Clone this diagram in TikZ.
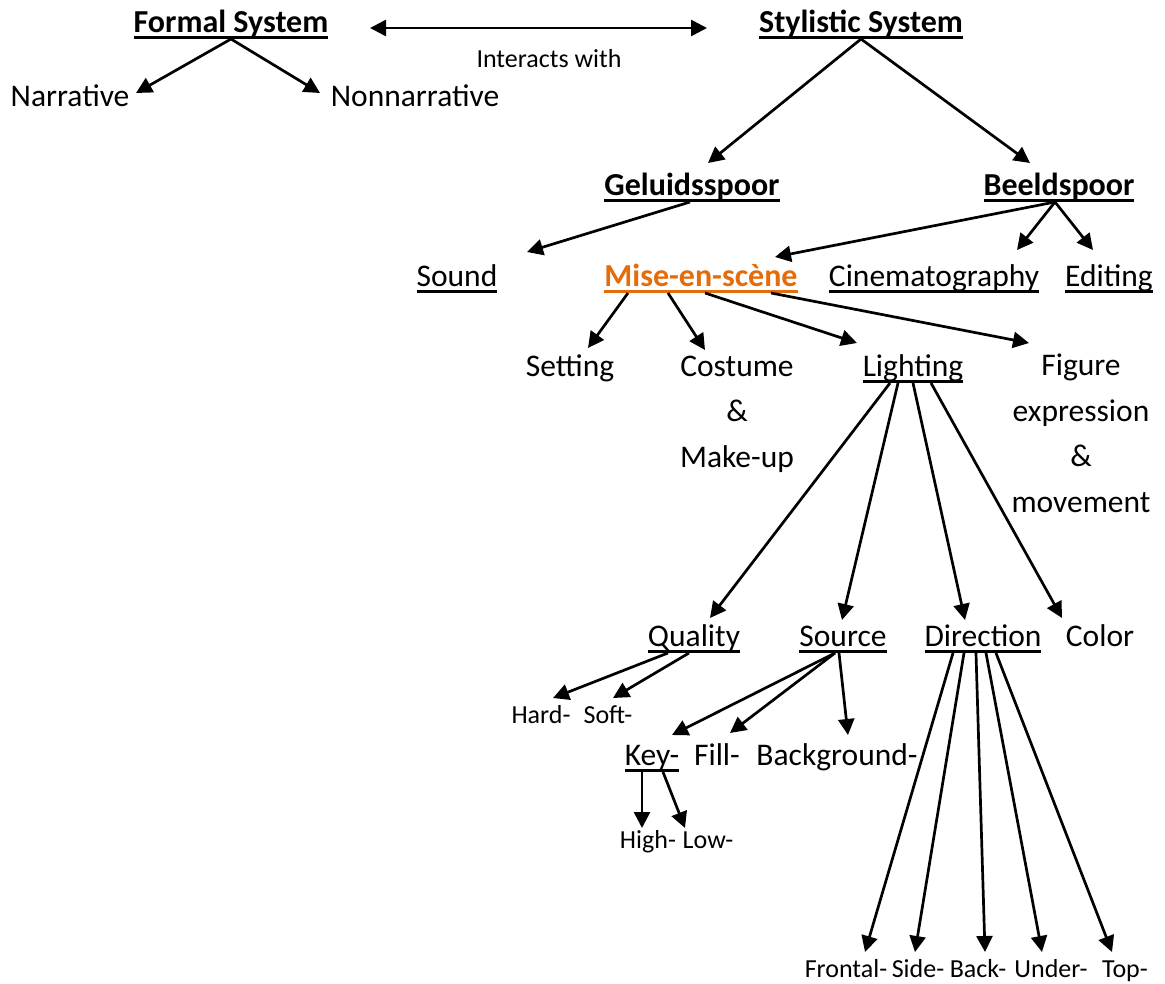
\documentclass[tikz,border=0pt]{standalone}
\usepackage{fontspec}
\setmainfont{Carlito}
\usetikzlibrary{arrows.meta}
\definecolor{miseorange}{HTML}{E46C0A}
\newcommand{\undl}[1]{\setbox0\hbox{#1}\dp0=0pt\rlap{\rule[-6.8pt]{\wd0}{2.8pt}}\box0}
\tikzstyle{txt} = [inner sep=0pt, anchor=base, align=center, font=\fontsize{31.5}{45.5}\selectfont]
\tikzstyle{headtxt} = [txt, font=\fontsize{32}{45.5}\selectfont\bfseries]
\tikzstyle{smalltxt} = [inner sep=0pt, anchor=base, font=\fontsize{26}{30}\selectfont]
\tikzstyle{arrow} = [line width=2.7pt, -{Triangle[length=16pt,width=16pt]}]
\tikzstyle{twoway} = [line width=2.7pt, {Triangle[length=16pt,width=16pt]}-{Triangle[length=16pt,width=16pt]}]

\begin{document}
\begin{tikzpicture}[x=1pt,y=-1pt]
\useasboundingbox (0,0) rectangle (1165,983);

% Nodes (positions in pixels, at the baseline of the last line)
\node (formal) [headtxt] at (231,32) {\undl{Formal System}};
\node (styl) [headtxt] at (861,32) {\undl{Stylistic System}};
\node (inter) [smalltxt] at (549,67) {Interacts with};
\node (narr) [txt] at (70,106) {Narrative};
\node (nonnarr) [txt] at (415,106) {Nonnarrative};
\node (geluid) [headtxt] at (692,195) {\undl{Geluidsspoor}};
\node (beeld) [headtxt] at (1059,195) {\undl{Beeldspoor}};
\node (sound) [txt] at (457,286) {\undl{Sound}};
\node (mise) [headtxt, text=miseorange] at (701,286) {\undl{Mise-en-scène}};
\node (cine) [txt] at (934,286) {\undl{Cinematography}};
\node (edit) [txt] at (1109,286) {\undl{Editing}};
\node (setting) [txt] at (570,376) {Setting};
\node (costume) [txt] at (737,467) {Costume\\\&\\Make-up};
\node (light) [txt] at (913,376) {\undl{Lighting}};
\node (figure) [txt] at (1081,512) {Figure\\expression\\\&\\movement};
\node (quality) [txt] at (694,646) {\undl{Quality}};
\node (source) [txt] at (843,646) {\undl{Source}};
\node (direction) [txt] at (983,646) {\undl{Direction}};
\node (color) [txt] at (1100,646) {Color};
\node (hard) [smalltxt] at (541,723) {Hard-};
\node (soft) [smalltxt] at (608,723) {Soft-};
\node (key) [txt] at (652,765) {\undl{Key-}};
\node (fill) [txt] at (717,765) {Fill-};
\node (backg) [txt] at (837,765) {Background-};
\node (high) [smalltxt] at (648,848) {High-};
\node (low) [smalltxt] at (708,848) {Low-};
\node (frontal) [smalltxt] at (846,977) {Frontal-};
\node (side) [smalltxt] at (918,977) {Side-};
\node (back) [smalltxt] at (978,977) {Back-};
\node (under) [smalltxt] at (1051,977) {Under-};
\node (top) [smalltxt] at (1125,977) {Top-};

% Arrows
\draw [twoway] ([xshift=139pt,yshift=4pt]formal.base) -- ([xshift=-154pt,yshift=4pt]styl.base);
\draw [arrow] (formal.south) -- ([xshift=66pt,yshift=13pt]narr.base);
\draw [arrow] (formal.south) -- ([xshift=-95pt,yshift=13pt]nonnarr.base);
\draw [arrow] (styl.south) -- ([xshift=16pt,yshift=32pt]geluid.base);
\draw [arrow] (styl.south) -- ([xshift=-29pt,yshift=32pt]beeld.base);
\draw [arrow] ([xshift=-2pt]geluid.south) -- ([xshift=70pt,yshift=34pt]sound.base);
\draw [arrow] ([xshift=-4pt]beeld.south) -- ([xshift=74pt,yshift=29pt]mise.base);
\draw [arrow] ([xshift=-4pt]beeld.south) -- ([xshift=83pt,yshift=36pt]cine.base);
\draw [arrow] ([xshift=-4pt]beeld.south) -- ([xshift=-16pt,yshift=36pt]edit.base);
\draw [arrow] ([xshift=-73pt]mise.south) -- ([xshift=18pt,yshift=28pt]setting.base);
\draw [arrow] ([xshift=-33pt]mise.south) -- ([xshift=-32pt,yshift=117pt]costume.base);
\draw [arrow] ([xshift=4pt]mise.south) -- ([xshift=-56pt,yshift=33pt]light.base);
\draw [arrow] ([xshift=70pt]mise.south) -- ([xshift=-52pt,yshift=169pt]figure.base);
\draw [arrow] ([xshift=-23pt]light.south) -- ([xshift=16pt,yshift=28pt]quality.base);
\draw [arrow] ([xshift=-15pt]light.south) -- ([xshift=-1pt,yshift=26pt]source.base);
\draw [arrow] ([xshift=0pt]light.south) -- ([xshift=-18pt,yshift=26pt]direction.base);
\draw [arrow] ([xshift=18pt]light.south) -- ([xshift=-38pt,yshift=28pt]color.base);
\draw [arrow] ([xshift=-26pt]quality.south) -- ([xshift=12pt,yshift=25pt]hard.base);
\draw [arrow] ([xshift=-5pt]quality.south) -- ([xshift=5pt,yshift=25pt]soft.base);
\draw [arrow] ([xshift=-8pt]source.south) -- ([xshift=20pt,yshift=30pt]key.base);
\draw [arrow] ([xshift=-8pt]source.south) -- ([xshift=13pt,yshift=32pt]fill.base);
\draw [arrow] ([xshift=-4pt]source.south) -- ([xshift=11pt,yshift=30pt]backg.base);
\draw [arrow] ([xshift=-10pt]key.south) -- ([xshift=-6pt,yshift=20pt]high.base);
\draw [arrow] ([xshift=11pt]key.south) -- ([xshift=-23pt,yshift=20pt]low.base);
\draw [arrow] ([xshift=-30pt]direction.south) -- ([xshift=19pt,yshift=25pt]frontal.base);
\draw [arrow] ([xshift=-19pt]direction.south) -- ([xshift=-3pt,yshift=25pt]side.base);
\draw [arrow] ([xshift=-7pt]direction.south) -- ([xshift=7pt,yshift=25pt]back.base);
\draw [arrow] ([xshift=3pt]direction.south) -- ([xshift=-9pt,yshift=25pt]under.base);
\draw [arrow] ([xshift=13pt]direction.south) -- ([xshift=-13pt,yshift=25pt]top.base);

\end{tikzpicture}
\end{document}
